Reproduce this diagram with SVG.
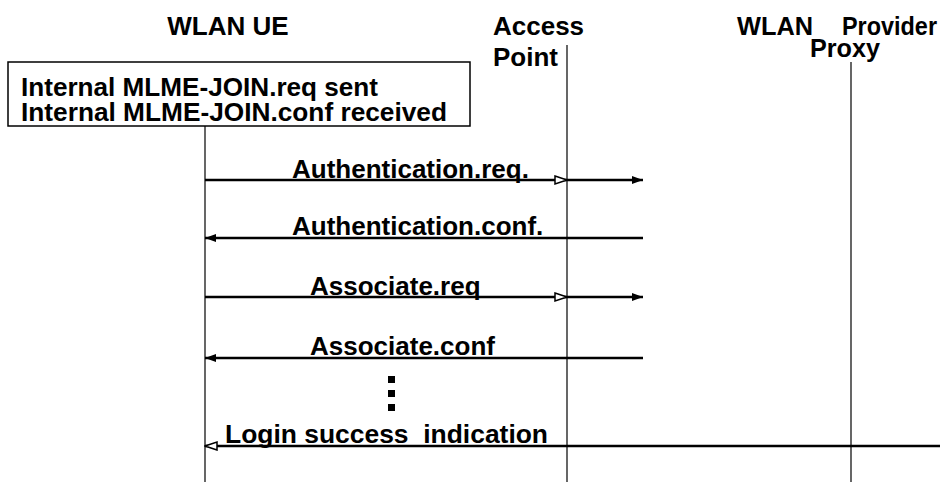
<svg xmlns="http://www.w3.org/2000/svg" width="940" height="482" viewBox="0 0 940 482">
<style>
text{font-family:"Liberation Sans",Arial,sans-serif;font-weight:bold;font-size:26px;fill:#000}
.life{stroke:#000;stroke-width:1.2;fill:none}
.msg{stroke:#000;stroke-width:2.4;fill:none}
</style>
<defs>
<marker id="fill" markerWidth="12" markerHeight="10" refX="11" refY="5" orient="auto" markerUnits="userSpaceOnUse">
<path d="M0,1 L11,5 L0,9 Z" fill="#000"/>
</marker>
<marker id="open" markerWidth="14" markerHeight="12" refX="13" refY="6" orient="auto" markerUnits="userSpaceOnUse">
<path d="M1,2 L13,6 L1,10 Z" fill="#fff" stroke="#000" stroke-width="1.5"/>
</marker>
</defs>
<rect width="940" height="482" fill="#fff"/>
<g id="wlan-ue">
<text x="228" y="35" text-anchor="middle">WLAN UE</text>
<rect x="8" y="62" width="462" height="64" fill="#fff" stroke="#000" stroke-width="1.5"/>
<text x="21" y="96" textLength="357" lengthAdjust="spacingAndGlyphs">Internal MLME-JOIN.req sent</text>
<text x="21" y="121" textLength="426" lengthAdjust="spacingAndGlyphs">Internal MLME-JOIN.conf received</text>
<line class="life" x1="205" y1="126" x2="205" y2="482"/>
</g>
<g id="access-point">
<text x="493" y="35">Access</text>
<text x="493" y="66">Point</text>
<line class="life" x1="567" y1="45" x2="567" y2="482"/>
</g>
<g id="provider-proxy">
<text x="737" y="35" textLength="76" lengthAdjust="spacingAndGlyphs">WLAN</text>
<text x="842" y="35" textLength="95" lengthAdjust="spacingAndGlyphs">Provider</text>
<text x="810" y="57" textLength="70" lengthAdjust="spacingAndGlyphs">Proxy</text>
<line class="life" x1="851" y1="62" x2="851" y2="482"/>
</g>
<g id="connectors">
<line class="msg" x1="205" y1="180" x2="567" y2="180" marker-end="url(#open)"/>
<line class="msg" x1="567" y1="180" x2="643" y2="180" marker-end="url(#fill)"/>
<text x="292" y="178">Authentication.req.</text>
<line class="msg" x1="643" y1="238" x2="205" y2="238" marker-end="url(#fill)"/>
<text x="292" y="235">Authentication.conf.</text>
<line class="msg" x1="205" y1="297" x2="567" y2="297" marker-end="url(#open)"/>
<line class="msg" x1="567" y1="297" x2="643" y2="297" marker-end="url(#fill)"/>
<text x="310" y="295">Associate.req</text>
<line class="msg" x1="643" y1="358" x2="205" y2="358" marker-end="url(#fill)"/>
<text x="310" y="355">Associate.conf</text>
<g id="ellipsis" fill="#000">
<rect x="388" y="376" width="7" height="7"/>
<rect x="388" y="390" width="7" height="7"/>
<rect x="388" y="404" width="7" height="7"/>
</g>
<line class="msg" x1="940" y1="446" x2="205" y2="446" stroke-width="2.8" marker-end="url(#open)"/>
<text x="225" y="443" xml:space="preserve" textLength="323" lengthAdjust="spacingAndGlyphs">Login success  indication</text>
</g>
</svg>
